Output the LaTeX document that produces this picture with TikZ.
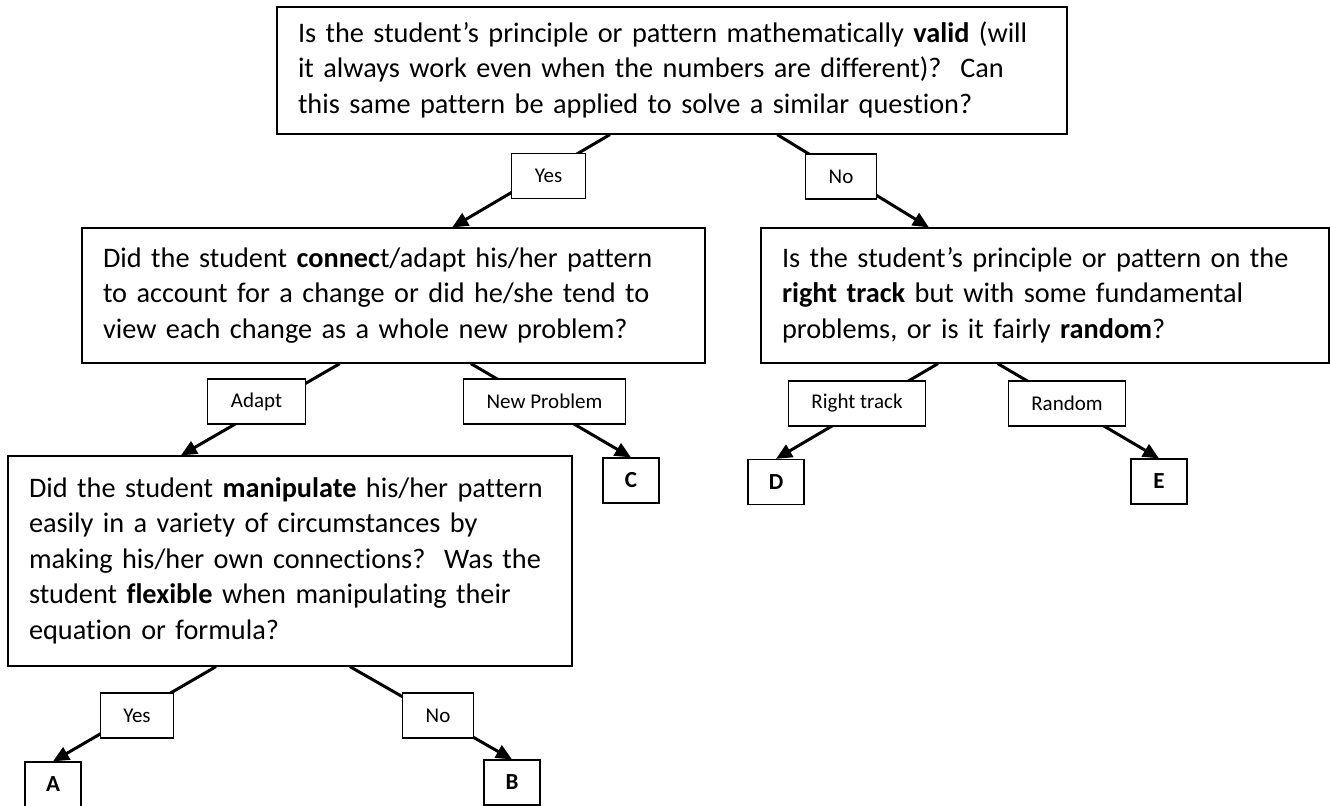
\documentclass[tikz,border=0pt]{standalone}
\usepackage{fontspec}
\setmainfont{Carlito}[Ligatures=NoCommon]
\usepackage{tikz}
\usetikzlibrary{arrows.meta}
\usetikzlibrary{calc}
\frenchspacing

\newcommand{\qfont}{\fontsize{14.15}{17.75}\selectfont}
\newcommand{\lblfont}{\fontsize{10.5}{12}\selectfont}
\newcommand{\leaffont}{\fontsize{11.5}{13}\selectfont\bfseries}
% fixed line breaks, never rewrapped
\newcommand{\qlines}[1]{\begin{tabular}{@{}l@{}}#1\end{tabular}}

\tikzset{
  qbox/.style={draw, line width=0.6pt, align=left, font=\qfont,
    inner xsep=10.5pt, inner ysep=0pt},
  lbl/.style={draw, fill=white, line width=0.6pt, font=\lblfont,
    inner xsep=11.5pt, inner ysep=0pt, minimum height=22.5pt},
  leaf/.style={draw, line width=0.6pt, font=\leaffont, inner sep=0pt,
    minimum width=28pt, minimum height=22.5pt},
  branch/.style={->, line width=1.5pt},
}

\begin{document}
\begin{tikzpicture}[x=0.5pt, y=-0.5pt, >={Triangle[length=8pt, width=7pt]}]

\useasboundingbox (0,0) rectangle (1330,805);

% ---------------------------------------------------------------------------
% Question boxes
% ---------------------------------------------------------------------------
\node[qbox, text width=374pt, minimum height=63.5pt] (valid) at (672,70.5)
  {\qlines{Is the student’s principle or pattern mathematically \textbf{valid} (will\\
   it always work even when the numbers are different)?~ Can\\
   this same pattern be applied to solve a similar question?}};

\node[qbox, text width=290.5pt, minimum height=67.5pt] (connect) at (393.5,295.5)
  {\qlines{Did the student \textbf{connec}t/adapt his/her pattern\\
   to account for a change or did he/she tend to\\
   view each change as a whole new problem?}};

\node[qbox, text width=263pt, minimum height=67.5pt] (track) at (1045,295.5)
  {\qlines{Is the student’s principle or pattern on the\\
   \textbf{right track} but with some fundamental\\
   problems, or is it fairly \textbf{random}?}};

\node[qbox, text width=261pt, minimum height=105pt] (manip) at (290,561)
  {\qlines{Did the student \textbf{manipulate} his/her pattern\\
   easily in a variety of circumstances by\\
   making his/her own connections?~ Was the\\
   student \textbf{flexible} when manipulating their\\
   equation or formula?}};

% ---------------------------------------------------------------------------
% Outcome boxes
% ---------------------------------------------------------------------------
\node[leaf] (A) at (53,784.5) {A};
\node[leaf] (B) at (512,782.5) {B};
\node[leaf] (C) at (631,480.5) {C};
\node[leaf] (D) at (776,482) {D};
\node[leaf] (E) at (1159,481.5) {E};

% ---------------------------------------------------------------------------
% Branches (labels are laid over them below)
% ---------------------------------------------------------------------------
\draw[branch] ($(valid.south west)!0.4215!(valid.south east)$)
  -- ($(connect.north west)!0.594!(connect.north east)$);
\draw[branch] ($(valid.south west)!0.633!(valid.south east)$)
  -- ($(track.north west)!0.296!(track.north east)$);

\draw[branch] ($(connect.south west)!0.414!(connect.south east)$)
  -- ($(manip.north west)!0.307!(manip.north east)$);
\draw[branch] ($(connect.south west)!0.624!(connect.south east)$) -- (C.north);

\draw[branch] ($(track.south west)!0.312!(track.south east)$) -- (D.north);
\draw[branch] ($(track.south west)!0.417!(track.south east)$) -- (E.north);

\draw[branch] ($(manip.south west)!0.369!(manip.south east)$) -- (A.north);
\draw[branch] ($(manip.south west)!0.606!(manip.south east)$) -- (B.north);

% ---------------------------------------------------------------------------
% Branch labels
% ---------------------------------------------------------------------------
\node[lbl] (validYes) at (548.5,176) {Yes};
\node[lbl] (validNo) at (841,176.5) {No};
\node[lbl] (connAdapt) at (256.5,401.5) {Adapt};
\node[lbl] (connNew) at (544.5,401.5) {New Problem};
\node[lbl] (trackRight) at (857,403.5) {Right track};
\node[lbl] (trackRandom) at (1067,403.5) {Random};
\node[lbl] (manipYes) at (137,715.5) {Yes};
\node[lbl] (manipNo) at (438,715.5) {No};

\end{tikzpicture}
\end{document}
